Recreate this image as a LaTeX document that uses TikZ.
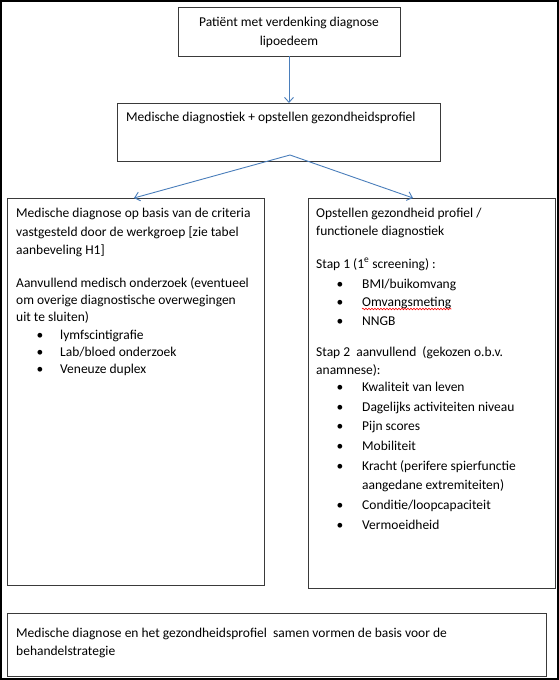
\documentclass[tikz,border=0pt]{standalone}
\usepackage{fontspec}
\setmainfont{Carlito}
\usetikzlibrary{arrows.meta,decorations.pathmorphing,calc}
\definecolor{boxline}{HTML}{3A3A3A}
\definecolor{arrowblue}{HTML}{4A7EBB}
\begin{document}
\begin{tikzpicture}[x=1pt,y=-1pt,
  boxnode/.style={draw=boxline, line width=1pt, anchor=north west, inner sep=0pt, outer sep=0pt},
  txt/.style={anchor=base west, inner sep=0pt, font=\fontsize{13.5}{16}\selectfont, text=black},
  ctxt/.style={txt, anchor=base},
  bul/.style={txt, anchor=base},
  flow/.style={draw=arrowblue, line width=0.9pt, -{Straight Barb[length=5pt,width=9pt]}},
  squig/.style={draw=red, line width=0.6pt, decorate, decoration={snake, amplitude=0.8pt, segment length=3pt}},
]
\useasboundingbox (0,0) rectangle (559,680);
\draw[line width=2pt] (1,1) rectangle (558,679);

% boxes
\node[boxnode, minimum width=222pt, minimum height=49pt] (b1) at (178,7) {};
\node[boxnode, minimum width=323pt, minimum height=58pt] (b2) at (117,103) {};
\node[boxnode, minimum width=257pt, minimum height=387pt] (lbox) at (7,198) {};
\node[boxnode, minimum width=247pt, minimum height=390pt] (rbox) at (308,198) {};
\node[boxnode, minimum width=539pt, minimum height=63pt] (bbox) at (7,613) {};

% connectors
\coordinate (fork) at (290,155);
\draw[flow] (b1.south) -- (b1.south |- b2.north);
\draw[flow] (fork) -- ($(lbox.north west)+(127,0)$);
\draw[flow] (fork) -- ($(rbox.north west)+(105,0)$);

% box 1
\node[ctxt] (t1a) at (289,26) {Patiënt met verdenking diagnose};
\node[ctxt] (t1b) at (289,45) {lipoedeem};

% box 2
\node[txt] (t2) at (126,121) {Medische diagnostiek + opstellen gezondheidsprofiel};

% left box
\node[txt] (l1) at (16,217) {Medische diagnose op basis van de criteria};
\node[txt] (l2) at (16,236) {vastgesteld door de werkgroep [zie tabel};
\node[txt] (l3) at (16,254) {aanbeveling H1]};
\node[txt] (l4) at (16,287) {Aanvullend medisch onderzoek (eventueel};
\node[txt] (l5) at (16,304) {om overige diagnostische overwegingen};
\node[txt] (l6) at (16,321) {uit te sluiten)};
\node[bul] (lb1) at (40,339) {•};
\node[txt] (l7) at (60,339) {lymfscintigrafie};
\node[bul] (lb2) at (40,356) {•};
\node[txt] (l8) at (60,356) {Lab/bloed onderzoek};
\node[bul] (lb3) at (40,373) {•};
\node[txt] (l9) at (60,373) {Veneuze duplex};

% right box
\node[txt] (r1) at (316,217) {Opstellen gezondheid profiel /};
\node[txt] (r2) at (316,235) {functionele diagnostiek};
\node[txt] (r3) at (316,268) {Stap 1 (1\textsuperscript{e} screening) :};
\node[bul] (rb1) at (340,288) {•};
\node[txt] (r4) at (362,288) {BMI/buikomvang};
\node[bul] (rb2) at (340,306) {•};
\node[txt] (r5) at (362,306) {Omvangsmeting};
\draw[squig] ($(r5.base west)+(0,3)$) -- ($(r5.base east)+(0,3)$);
\node[bul] (rb3) at (340,325) {•};
\node[txt] (r6) at (362,325) {NNGB};
\node[txt] (r7) at (316,356) {Stap 2\ \ aanvullend\ \ (gekozen o.b.v.};
\node[txt] (r8) at (316,374) {anamnese):};
\node[bul] (rb4) at (340,391) {•};
\node[txt] (r9) at (362,391) {Kwaliteit van leven};
\node[bul] (rb5) at (340,411) {•};
\node[txt] (r10) at (362,411) {Dagelijks activiteiten niveau};
\node[bul] (rb6) at (340,430) {•};
\node[txt] (r11) at (362,430) {Pijn scores};
\node[bul] (rb7) at (340,450) {•};
\node[txt] (r12) at (362,450) {Mobiliteit};
\node[bul] (rb8) at (340,470) {•};
\node[txt] (r13) at (362,470) {Kracht (perifere spierfunctie};
\node[txt] (r14) at (362,489) {aangedane extremiteiten)};
\node[bul] (rb9) at (340,509) {•};
\node[txt] (r15) at (362,509) {Conditie/loopcapaciteit};
\node[bul] (rb10) at (340,529) {•};
\node[txt] (r16) at (362,529) {Vermoeidheid};

% bottom box
\node[txt] (bt1) at (16,637) {Medische diagnose en het gezondheidsprofiel\ \ samen vormen de basis voor de};
\node[txt] (bt2) at (16,655) {behandelstrategie};
\end{tikzpicture}
\end{document}
